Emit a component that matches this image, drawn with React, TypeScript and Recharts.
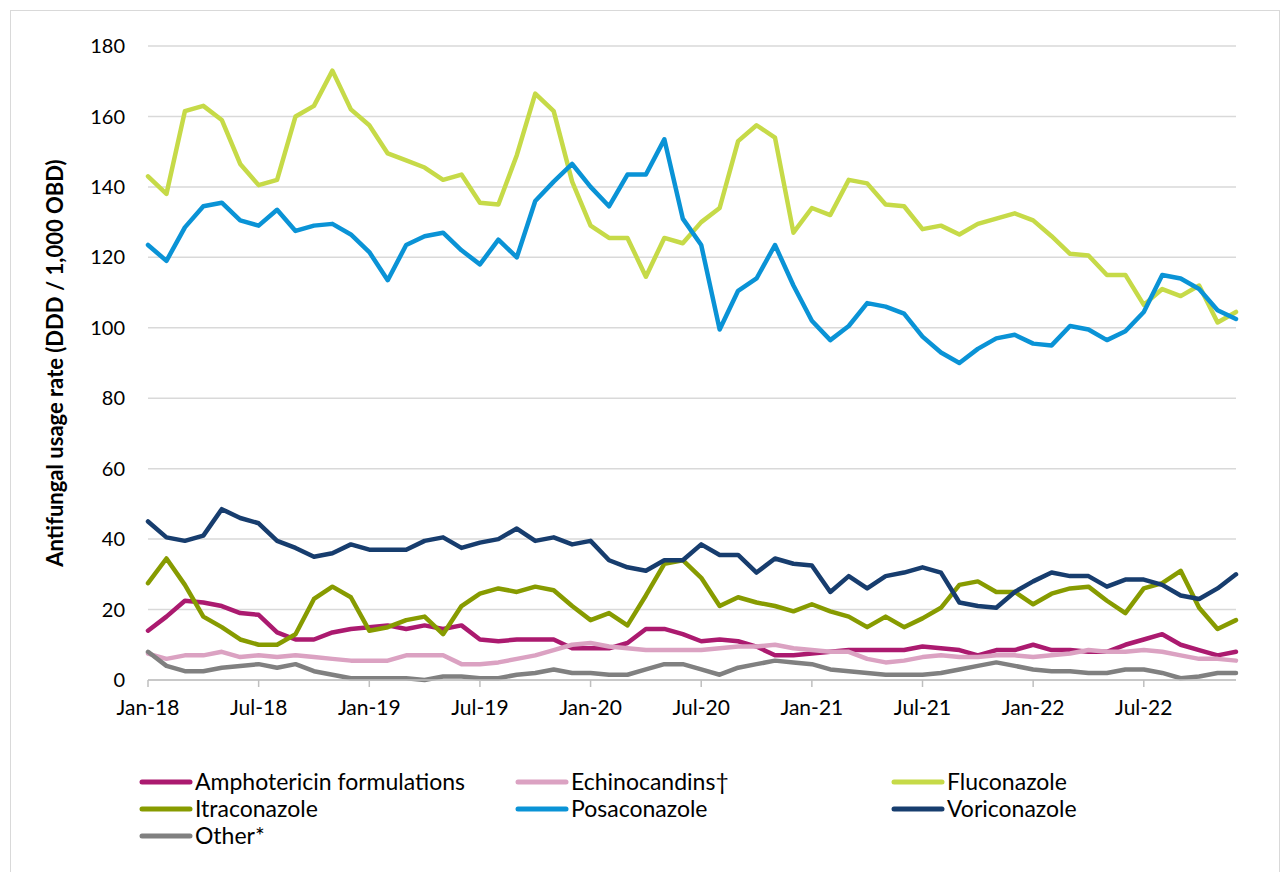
import React from 'react';
import { LineChart, Line, XAxis, YAxis, CartesianGrid, Legend } from 'recharts';

const months = [
  'Jan-18','Feb-18','Mar-18','Apr-18','May-18','Jun-18','Jul-18','Aug-18','Sep-18','Oct-18','Nov-18','Dec-18',
  'Jan-19','Feb-19','Mar-19','Apr-19','May-19','Jun-19','Jul-19','Aug-19','Sep-19','Oct-19','Nov-19','Dec-19',
  'Jan-20','Feb-20','Mar-20','Apr-20','May-20','Jun-20','Jul-20','Aug-20','Sep-20','Oct-20','Nov-20','Dec-20',
  'Jan-21','Feb-21','Mar-21','Apr-21','May-21','Jun-21','Jul-21','Aug-21','Sep-21','Oct-21','Nov-21','Dec-21',
  'Jan-22','Feb-22','Mar-22','Apr-22','May-22','Jun-22','Jul-22','Aug-22','Sep-22','Oct-22','Nov-22','Dec-22',
];

const xTicks = ['Jan-18','Jul-18','Jan-19','Jul-19','Jan-20','Jul-20','Jan-21','Jul-21','Jan-22','Jul-22'];
const yTicks = [0, 20, 40, 60, 80, 100, 120, 140, 160, 180];

const amphotericin = [
  14, 18, 22.5, 22, 21, 19, 18.5, 13.5, 11.5, 11.5, 13.5, 14.5,
  15, 15.5, 14.5, 15.5, 14.5, 15.5, 11.5, 11, 11.5, 11.5, 11.5, 9,
  9, 9, 10.5, 14.5, 14.5, 13, 11, 11.5, 11, 9.5, 7, 7,
  7.5, 8, 8.5, 8.5, 8.5, 8.5, 9.5, 9, 8.5, 7, 8.5, 8.5,
  10, 8.5, 8.5, 8, 8, 10, 11.5, 13, 10, 8.5, 7, 8,
];
const echinocandins = [
  7.5, 6, 7, 7, 8, 6.5, 7, 6.5, 7, 6.5, 6, 5.5,
  5.5, 5.5, 7, 7, 7, 4.5, 4.5, 5, 6, 7, 8.5, 10,
  10.5, 9.5, 9, 8.5, 8.5, 8.5, 8.5, 9, 9.5, 9.5, 10, 9,
  8.5, 8, 8, 6, 5, 5.5, 6.5, 7, 6.5, 6.5, 7, 7,
  6.5, 7, 7.5, 8.5, 8, 8, 8.5, 8, 7, 6, 6, 5.5,
];
const fluconazole = [
  143, 138, 161.5, 163, 159, 146.5, 140.5, 142, 160, 163, 173, 162,
  157.5, 149.5, 147.5, 145.5, 142, 143.5, 135.5, 135, 149, 166.5, 161.5, 141.5,
  129, 125.5, 125.5, 114.5, 125.5, 124, 130, 134, 153, 157.5, 154, 127,
  134, 132, 142, 141, 135, 134.5, 128, 129, 126.5, 129.5, 131, 132.5,
  130.5, 126, 121, 120.5, 115, 115, 106.5, 111, 109, 112, 101.5, 104.5,
];
const itraconazole = [
  27.5, 34.5, 27, 18, 15, 11.5, 10, 10, 13, 23, 26.5, 23.5,
  14, 15, 17, 18, 13, 21, 24.5, 26, 25, 26.5, 25.5, 21,
  17, 19, 15.5, 24, 33, 34, 29, 21, 23.5, 22, 21, 19.5,
  21.5, 19.5, 18, 15, 18, 15, 17.5, 20.5, 27, 28, 25, 25,
  21.5, 24.5, 26, 26.5, 22.5, 19, 26, 27.5, 31, 20.5, 14.5, 17,
];
const posaconazole = [
  123.5, 119, 128.5, 134.5, 135.5, 130.5, 129, 133.5, 127.5, 129, 129.5, 126.5,
  121.5, 113.5, 123.5, 126, 127, 122, 118, 125, 120, 136, 141.5, 146.5,
  140, 134.5, 143.5, 143.5, 153.5, 131, 123.5, 99.5, 110.5, 114, 123.5, 112,
  102, 96.5, 100.5, 107, 106, 104, 97.5, 93, 90, 94, 97, 98,
  95.5, 95, 100.5, 99.5, 96.5, 99, 104.5, 115, 114, 111, 105, 102.5,
];
const voriconazole = [
  45, 40.5, 39.5, 41, 48.5, 46, 44.5, 39.5, 37.5, 35, 36, 38.5,
  37, 37, 37, 39.5, 40.5, 37.5, 39, 40, 43, 39.5, 40.5, 38.5,
  39.5, 34, 32, 31, 34, 34, 38.5, 35.5, 35.5, 30.5, 34.5, 33,
  32.5, 25, 29.5, 26, 29.5, 30.5, 32, 30.5, 22, 21, 20.5, 25,
  28, 30.5, 29.5, 29.5, 26.5, 28.5, 28.5, 27, 24, 23, 26, 30,
];
const other = [
  8, 4, 2.5, 2.5, 3.5, 4, 4.5, 3.5, 4.5, 2.5, 1.5, 0.5,
  0.5, 0.5, 0.5, 0, 1, 1, 0.5, 0.5, 1.5, 2, 3, 2,
  2, 1.5, 1.5, 3, 4.5, 4.5, 3, 1.5, 3.5, 4.5, 5.5, 5,
  4.5, 3, 2.5, 2, 1.5, 1.5, 1.5, 2, 3, 4, 5, 4,
  3, 2.5, 2.5, 2, 2, 3, 3, 2, 0.5, 1, 2, 2,
];

const seriesNames = [
  'Amphotericin formulations', 'Echinocandins\u2020', 'Fluconazole',
  'Itraconazole', 'Posaconazole', 'Voriconazole', 'Other*',
];
const seriesKeys = ['amph', 'echi', 'fluc', 'itra', 'posa', 'vori', 'other'];
const seriesColors = ['#AB1A6F', '#DBA2C2', '#C6DA48', '#879B00', '#0A93D6', '#173D6E', '#808080'];
const seriesValues = [amphotericin, echinocandins, fluconazole, itraconazole, posaconazole, voriconazole, other];

const data = months.map((m, i) => {
  const row: Record<string, any> = { month: m };
  seriesKeys.forEach((k, s) => { row[k] = seriesValues[s][i]; });
  return row;
});

const FONT = 'Lato, "Open Sans", sans-serif';

const LegendContent = () => (
  <div style={{ display: 'grid', gridTemplateColumns: '376px 376px 376px', rowGap: 0, fontFamily: FONT }}>
    {seriesNames.map((n, i) => (
      <div key={n} style={{ display: 'flex', alignItems: 'center', height: 27 }}>
        <svg width={54} height={10} style={{ marginRight: 2 }}>
          <line x1={3} y1={5} x2={51} y2={5} stroke={seriesColors[i]} strokeWidth={5} strokeLinecap="round" />
        </svg>
        <span style={{ fontSize: 23, lineHeight: '27px', color: '#000' }}>{n}</span>
      </div>
    ))}
  </div>
);

export default function App() {
  return (
    <div style={{ position: 'absolute', left: 0, top: 0, width: 1281, height: 872, background: '#fff' }}>
      <div style={{ position: 'absolute', left: 10, top: 10, width: 1270, height: 870, border: '1px solid #d9d9d9', boxSizing: 'border-box' }} />
      <LineChart
        width={1281}
        height={872}
        data={data}
        margin={{ top: 46, right: 45, left: 0, bottom: 152 }}
      >
        <CartesianGrid vertical={false} stroke="#d9d9d9" strokeWidth={1.5} />
        <XAxis
          dataKey="month"
          ticks={xTicks}
          interval={0}
          height={40}
          tickSize={7}
          tickMargin={13}
          stroke="#bfbfbf"
          strokeWidth={1.5}
          tick={{ fill: '#000', fontSize: 21, fontFamily: FONT }}
        />
        <YAxis
          width={148}
          domain={[0, 180]}
          ticks={yTicks}
          axisLine={false}
          tickLine={false}
          tickSize={0}
          tickMargin={23}
          tick={{ fill: '#000', fontSize: 20, fontFamily: FONT }}
          label={{
            value: 'Antifungal usage rate (DDD / 1,000 OBD)',
            angle: -90,
            position: 'center',
            dx: -19,
            style: { fontSize: 22, fontWeight: 700, fontFamily: FONT, fill: '#000', textAnchor: 'middle' },
          }}
        />
        <Legend
          layout="horizontal"
          verticalAlign="middle"
          align="center"
          wrapperStyle={{ top: 768, left: 139, width: 1130 }}
          content={<LegendContent />}
        />
        {seriesKeys.map((k, i) => (
          <Line
            key={k}
            type="linear"
            dataKey={k}
            name={seriesNames[i]}
            stroke={seriesColors[i]}
            strokeWidth={4.5}
            strokeLinejoin="round"
            strokeLinecap="round"
            dot={false}
            activeDot={false}
            isAnimationActive={false}
          />
        ))}
      </LineChart>
    </div>
  );
}
